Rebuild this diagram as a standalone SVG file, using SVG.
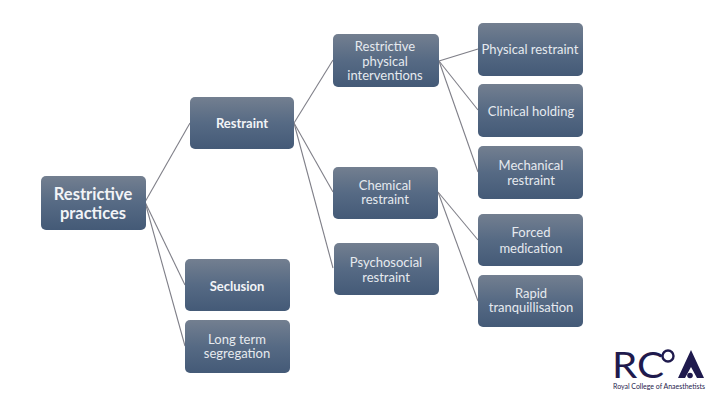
<svg xmlns="http://www.w3.org/2000/svg" width="720" height="405" viewBox="0 0 720 405">
<defs>
<linearGradient id="g" x1="0" y1="0" x2="0" y2="1"><stop offset="0" stop-color="#737f90"/><stop offset="0.5" stop-color="#566a84"/><stop offset="1" stop-color="#445a77"/></linearGradient>
</defs>
<style>
.b{fill:url(#g)}
text{font-family:Lato,"Open Sans","Liberation Sans",sans-serif;fill:#e6eaef;text-anchor:middle;font-size:13px}
.s{font-weight:700;fill:#f2f4f7}
.big{font-size:16.5px}
.c line{stroke:#7f7f88;stroke-width:1.1}
.logo{fill:#1f1a4d}
#logo text{fill:#1f1a4d;text-anchor:start}
</style>
<rect width="720" height="405" fill="#fff"/>
<g id="connectors" class="c">
<line x1="145" y1="202" x2="190" y2="123"/>
<line x1="145" y1="202" x2="185" y2="285"/>
<line x1="145" y1="202" x2="185" y2="346"/>
<line x1="294" y1="123" x2="333" y2="60"/>
<line x1="294" y1="123" x2="333" y2="192"/>
<line x1="294" y1="123" x2="333" y2="268"/>
<line x1="439" y1="61" x2="478" y2="49"/>
<line x1="439" y1="61" x2="478" y2="110"/>
<line x1="439" y1="61" x2="478" y2="172"/>
<line x1="438" y1="192" x2="478" y2="240"/>
<line x1="438" y1="192" x2="478" y2="301"/>
</g>
<g id="n1"><rect class="b" x="41" y="176" width="105" height="54" rx="5"/><text class="s big" x="93" y="200">Restrictive</text><text class="s big" x="93" y="219">practices</text></g>
<g id="n2"><rect class="b" x="190" y="97" width="104" height="52" rx="5"/><text class="s" x="242" y="128">Restraint</text></g>
<g id="n3"><rect class="b" x="185" y="259" width="105" height="52" rx="5"/><text class="s" x="237" y="291">Seclusion</text></g>
<g id="n4"><rect class="b" x="185" y="320" width="105" height="53" rx="5"/><text x="237" y="344">Long term</text><text x="237" y="358">segregation</text></g>
<g id="n5"><rect class="b" x="333" y="34" width="106" height="53" rx="5"/><text x="385" y="51">Restrictive</text><text x="385" y="66">physical</text><text x="385" y="80">interventions</text></g>
<g id="n6"><rect class="b" x="333" y="167" width="105" height="52" rx="5"/><text x="385" y="190">Chemical</text><text x="385" y="204">restraint</text></g>
<g id="n7"><rect class="b" x="334" y="243" width="105" height="52" rx="5"/><text x="386" y="267">Psychosocial</text><text x="386" y="282">restraint</text></g>
<g id="n8"><rect class="b" x="478" y="23" width="105" height="53" rx="5"/><text x="530" y="54">Physical restraint</text></g>
<g id="n9"><rect class="b" x="478" y="84" width="105" height="53" rx="5"/><text x="531" y="116">Clinical holding</text></g>
<g id="n10"><rect class="b" x="478" y="146" width="105" height="53" rx="5"/><text x="531" y="170">Mechanical</text><text x="531" y="185">restraint</text></g>
<g id="n11"><rect class="b" x="478" y="214" width="105" height="52" rx="5"/><text x="531" y="237">Forced</text><text x="531" y="253">medication</text></g>
<g id="n12"><rect class="b" x="478" y="275" width="105" height="52" rx="5"/><text x="531" y="298">Rapid</text><text x="531" y="312">tranquillisation</text></g>
<g id="logo">
<text x="612" y="378" style="font-size:37px" textLength="52" lengthAdjust="spacingAndGlyphs">RC</text>
<circle cx="668" cy="356" r="5.5" fill="none" stroke="#1f1a4d" stroke-width="2.4"/>
<path class="logo" d="M691 350L704 378H697L691 367L685 378H678Z"/>
<circle class="logo" cx="690" cy="375.500" r="2.800"/>
<text x="613" y="389" style="font-size:6.6px" textLength="92" lengthAdjust="spacingAndGlyphs">Royal College of Anaesthetists</text>
</g>
</svg>
